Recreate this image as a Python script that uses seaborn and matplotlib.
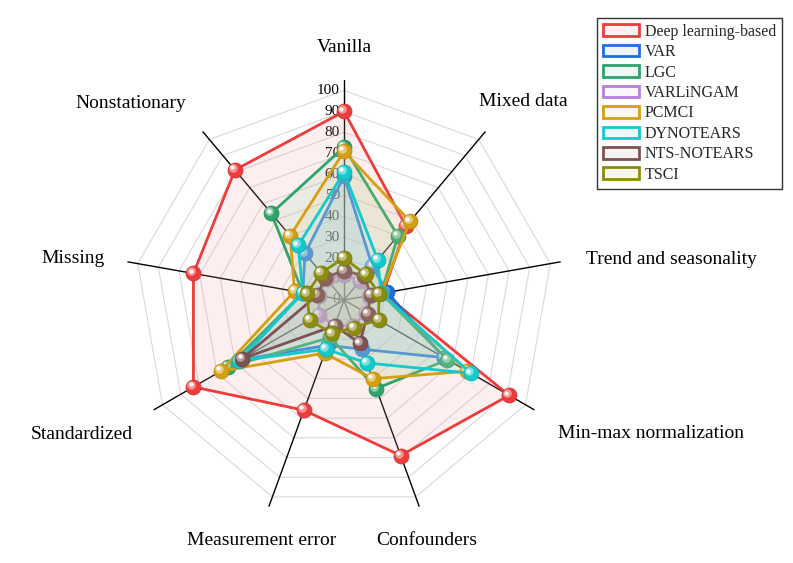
import numpy as np
import pandas as pd
import matplotlib
matplotlib.use("Agg")
import matplotlib.pyplot as plt
import matplotlib.transforms as mtransforms
from matplotlib.patches import Patch
import matplotlib.colors as mcolors
import seaborn as sns

# ---------------- data ----------------
categories = ["Vanilla", "Mixed data", "Trend and seasonality", "Min-max normalization",
              "Confounders", "Measurement error", "Standardized", "Missing", "Nonstationary"]
methods = ["Deep learning-based", "VAR", "LGC", "VARLiNGAM", "PCMCI",
           "DYNOTEARS", "NTS-NOTEARS", "TSCI"]
deep_learning = [90, 46, 19, 91, 79, 56, 83, 73, 81]
var_vals      = [59, 21, 21, 55, 25, 23, 57, 20, 29]
lgc_vals      = [73, 40, 18, 57, 45, 19, 64, 20, 54]
varlingam     = [12, 12, 12, 12, 13, 13, 14, 12, 13]
pcmci_vals    = [71, 49, 18, 68, 40, 27, 68, 24, 40]
dynotears     = [61, 25, 18, 70, 32, 25, 58, 20, 34]
nts_notears   = [14, 15, 13, 13, 22, 13, 56, 13, 14]
tsci_vals     = [20, 16, 17, 19, 14, 17, 19, 18, 17]
radial_ticks = [0, 10, 20, 30, 40, 50, 60, 70, 80, 90, 100]

series = [deep_learning, var_vals, lgc_vals, varlingam, pcmci_vals,
          dynotears, nts_notears, tsci_vals]
colors = ["#EE3B3B", "#1E6FE0", "#2EA36A", "#B77FDD", "#D49F12",
          "#12C9CC", "#7E5252", "#8C8C10"]

df = pd.DataFrame({m: v for m, v in zip(methods, series)}, index=categories)

# ---------------- style ----------------
sns.set_theme(style="white")
plt.rcParams['font.family'] = ['Liberation Serif', 'DejaVu Serif']

fig = plt.figure(figsize=(7.93, 5.63), dpi=100)
ax = fig.add_axes([0.1564, 0.0764, 0.5549, 0.7815], projection='polar')
ax.set_theta_offset(np.pi / 2)
ax.set_theta_direction(-1)
ax.set_ylim(0, 105)
ax.set_axis_off()

n = len(categories)
theta = np.arange(n) * 2 * np.pi / n
theta_c = np.append(theta, theta[0])

# polygon grid
for r in radial_ticks[1:]:
    ax.plot(theta_c, [r] * (n + 1), color="#D9D9D9", lw=0.8, zorder=1)
# spokes
for t in theta:
    ax.plot([t, t], [0, 105], color="black", lw=1.0, zorder=1.2)

# radial tick labels
tick_tr = mtransforms.offset_copy(ax.transData, fig=fig, x=-3, y=0, units='points')
for r in radial_ticks:
    ax.text(0, r, str(r), transform=tick_tr, ha='right', va='center',
            fontsize=11, color='black', zorder=1.5)

def lighten(c, f):
    rgb = np.array(mcolors.to_rgb(c))
    return tuple(rgb + (1 - rgb) * f)

def darken(c, f):
    rgb = np.array(mcolors.to_rgb(c))
    return tuple(rgb * (1 - f))

hl1 = mtransforms.offset_copy(ax.transData, fig=fig, x=-1.4, y=1.4, units='points')
hl2 = mtransforms.offset_copy(ax.transData, fig=fig, x=-2.0, y=2.0, units='points')

z = 3
for m, c in zip(methods, colors):
    vals = df[m].values
    vals_c = np.append(vals, vals[0])
    ax.fill(theta_c, vals_c, color=lighten(c, 0.5), alpha=0.16, lw=0, zorder=z)
    sub = pd.DataFrame({"theta": theta_c, "value": vals_c})
    sns.lineplot(data=sub, x="theta", y="value", sort=False, estimator=None,
                 color=c, lw=2.0, ax=ax, zorder=z + 0.1)
    ax.scatter(theta, vals, s=115, color=c, edgecolors=darken(c, 0.12),
               linewidths=0.6, zorder=z + 0.2)
    ax.scatter(theta, vals, s=38, color=lighten(c, 0.45), linewidths=0,
               transform=hl1, zorder=z + 0.3)
    ax.scatter(theta, vals, s=9, color="white", linewidths=0,
               transform=hl2, zorder=z + 0.4)
    z += 1

ax.set_xlabel("")
ax.set_ylabel("")
if ax.get_legend() is not None:
    ax.get_legend().remove()

# category labels (angle clockwise from top in degrees, radius in data units)
label_angles = [0, 42.1, 82.9, 113.5, 161.0, 199.0, 242.8, 278.6, 312.6]
label_radii = [120.5, 127.8, 157.4, 160.0, 121.4, 121.4, 140.8, 131.0, 138.5]
for lab, a, rr in zip(categories, label_angles, label_radii):
    ax.text(np.deg2rad(a), rr, lab, ha='center', va='center', fontsize=14,
            color='black', clip_on=False)

# legend
handles = [Patch(facecolor=lighten(c, 0.93), edgecolor=c, lw=2, label=m)
           for m, c in zip(methods, colors)]
leg = fig.legend(handles=handles, loc='upper right', bbox_to_anchor=(0.986, 0.968),
                 fontsize=11.5, frameon=True, fancybox=False, edgecolor='black',
                 handlelength=2.3, handleheight=0.75, handletextpad=0.35,
                 labelspacing=0.28, borderpad=0.35, borderaxespad=0)
leg.get_frame().set_linewidth(1.0)

fig.savefig("out.png", dpi=100)
